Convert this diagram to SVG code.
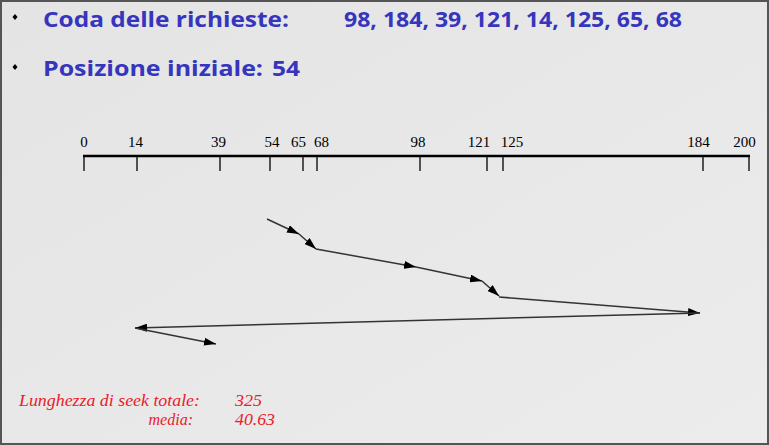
<svg xmlns="http://www.w3.org/2000/svg" width="769" height="445" viewBox="0 0 769 445">
<defs>
<linearGradient id="bg" x1="0" y1="0" x2="1" y2="1">
<stop offset="0" stop-color="#e4e4e4"/>
<stop offset="1" stop-color="#ececec"/>
</linearGradient>
<marker id="ah" viewBox="0 0 12 8" refX="12" refY="4" markerWidth="12" markerHeight="8" markerUnits="userSpaceOnUse" orient="auto">
<path d="M0,0 L12,4 L0,8 Z" fill="#000"/>
</marker>
<style>
.hd{font-family:"Open Sans","Liberation Sans",sans-serif;font-weight:bold;font-size:22px;fill:#3535bd}
.ax{font-family:"Liberation Serif","DejaVu Serif",serif;font-size:15px;fill:#000}
.tk{stroke:#000;stroke-width:1.3}
.seg{stroke:#333;stroke-width:1.5;fill:none;marker-end:url(#ah)}
.res{font-family:"Liberation Serif",serif;font-style:italic;font-size:16px;fill:#e8202a}
</style>
</defs>
<rect x="1" y="1" width="767" height="443" fill="url(#bg)" stroke="#555" stroke-width="2"/>
<g id="header">
<path d="M15,14 L17.5,17 L15,20 L12.5,17 Z" fill="#000"/>
<text class="hd" x="43" y="27" textLength="246" lengthAdjust="spacingAndGlyphs">Coda delle richieste:</text>
<text class="hd" x="344" y="27" textLength="338" lengthAdjust="spacingAndGlyphs">98, 184, 39, 121, 14, 125, 65, 68</text>
<path d="M15,64 L17.5,67 L15,70 L12.5,67 Z" fill="#000"/>
<text class="hd" x="43" y="76" textLength="220" lengthAdjust="spacingAndGlyphs">Posizione iniziale:</text>
<text class="hd" x="272" y="76" textLength="28" lengthAdjust="spacingAndGlyphs">54</text>
</g>
<g id="axis">
<line x1="83" y1="156" x2="750" y2="156" stroke="#000" stroke-width="2.5"/>
<line class="tk" x1="84" y1="156" x2="84" y2="171"/>
<line class="tk" x1="137" y1="156" x2="137" y2="171"/>
<line class="tk" x1="220" y1="156" x2="220" y2="171"/>
<line class="tk" x1="270" y1="156" x2="270" y2="171"/>
<line class="tk" x1="303" y1="156" x2="303" y2="171"/>
<line class="tk" x1="317" y1="156" x2="317" y2="171"/>
<line class="tk" x1="420" y1="156" x2="420" y2="171"/>
<line class="tk" x1="487" y1="156" x2="487" y2="171"/>
<line class="tk" x1="503" y1="156" x2="503" y2="171"/>
<line class="tk" x1="703" y1="156" x2="703" y2="171"/>
<line class="tk" x1="749" y1="156" x2="749" y2="171"/>
<text class="ax" x="84" y="147" text-anchor="middle">0</text>
<text class="ax" x="135.5" y="147" text-anchor="middle">14</text>
<text class="ax" x="218.5" y="147" text-anchor="middle">39</text>
<text class="ax" x="272" y="147" text-anchor="middle">54</text>
<text class="ax" x="298.5" y="147" text-anchor="middle">65</text>
<text class="ax" x="321.5" y="147" text-anchor="middle">68</text>
<text class="ax" x="418" y="147" text-anchor="middle">98</text>
<text class="ax" x="479" y="147" text-anchor="middle">121</text>
<text class="ax" x="512" y="147" text-anchor="middle">125</text>
<text class="ax" x="698.5" y="147" text-anchor="middle">184</text>
<text class="ax" x="744.5" y="147" text-anchor="middle">200</text>
</g>
<g id="connectors">
<line class="seg" x1="267" y1="219" x2="299" y2="234"/>
<line class="seg" x1="299" y1="234" x2="316" y2="249"/>
<line class="seg" x1="316" y1="249" x2="416" y2="267"/>
<line class="seg" x1="416" y1="267" x2="482" y2="281"/>
<line class="seg" x1="482" y1="281" x2="499" y2="296"/>
<line class="seg" x1="499" y1="297" x2="700" y2="313"/>
<line class="seg" x1="700" y1="313" x2="135" y2="328"/>
<line class="seg" x1="135" y1="328" x2="216" y2="344"/>
</g>
<g id="results">
<text class="res" x="19" y="406" textLength="181" lengthAdjust="spacingAndGlyphs">Lunghezza di seek totale:</text>
<text class="res" x="235" y="406" textLength="27" lengthAdjust="spacingAndGlyphs">325</text>
<text class="res" x="193" y="425" text-anchor="end">media:</text>
<text class="res" x="235" y="425" textLength="40" lengthAdjust="spacingAndGlyphs">40.63</text>
</g>
</svg>
